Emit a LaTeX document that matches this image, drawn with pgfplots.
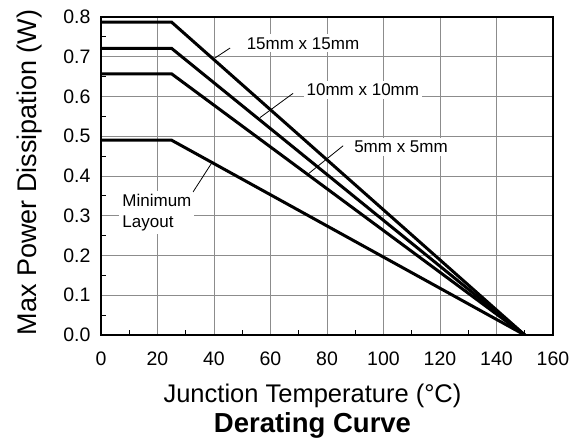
\documentclass[border=0pt]{standalone}
\usepackage{fontspec}
\setmainfont{Liberation Sans}
\usepackage{pgfplots}
\pgfplotsset{compat=1.18}

\begin{document}
\begin{tikzpicture}
\begin{axis}[
  scale only axis, width=452pt, height=318pt,
  xmin=0, xmax=160, ymin=0, ymax=0.8,
  xtick={0,20,40,60,80,100,120,140,160},
  ytick={0,0.1,0.2,0.3,0.4,0.5,0.6,0.7,0.8},
  minor x tick num=1, minor y tick num=1,
  tick pos=left,
  grid=major,
  major grid style={black!45, line width=1pt},
  axis line style={line width=2.5pt},
  major tick length=0pt, minor tick length=5pt,
  every tick/.style={black, line width=1pt},
  /pgf/number format/assume math mode=true,
  tick label style={font=\fontsize{19.5}{22}\selectfont},
  xticklabel style={yshift=-13pt},
  yticklabel style={xshift=-7pt, /pgf/number format/.cd, fixed, fixed zerofill, precision=1},
]
% derating curves: flat to 25 C, then linear to zero at 150 C
\addplot[black, line width=3pt] coordinates {(0,0.787) (25,0.787) (150,0)};
\addplot[black, line width=3pt] coordinates {(0,0.721) (25,0.721) (150,0)};
\addplot[black, line width=3pt] coordinates {(0,0.657) (25,0.657) (150,0)};
\addplot[black, line width=3pt] coordinates {(0,0.49) (25,0.49) (150,0)};

% labels and leaders
\node[fill=white, inner sep=3pt, font=\fontsize{17}{20}\selectfont] at (axis cs:71.5,0.734) {15mm x 15mm};
\draw[line width=0.8pt] (axis cs:40.35,0.697) -- (axis cs:45.7,0.722);
\node[fill=white, inner sep=3pt, font=\fontsize{17}{20}\selectfont] at (axis cs:92.7,0.616) {10mm x 10mm};
\draw[line width=0.8pt] (axis cs:56.3,0.547) -- (axis cs:68,0.608);
\node[fill=white, inner sep=3pt, font=\fontsize{17}{20}\selectfont] at (axis cs:106.2,0.473) {5mm x 5mm};
\draw[line width=0.8pt] (axis cs:73.3,0.405) -- (axis cs:85.7,0.476);
\node[fill=white, inner sep=3pt, align=left, font=\fontsize{17}{21}\selectfont] at (axis cs:19.8,0.309) {Minimum\\Layout};
\draw[line width=0.8pt] (axis cs:32.6,0.36) -- (axis cs:39.3,0.434);
\end{axis}
\node[anchor=base, font=\fontsize{25.5}{28}\selectfont] at (211.5pt,-67pt) {Junction Temperature (°C)};
\node[anchor=base, font=\bfseries\fontsize{27.5}{30}\selectfont] at (211.5pt,-97pt) {Derating Curve};
\node[anchor=base, rotate=90, font=\fontsize{27}{30}\selectfont] at (-64pt,162.5pt) {Max Power Dissipation (W)};
\pgfresetboundingbox
\path (-101pt,-112pt) rectangle (471pt,335pt);
\end{tikzpicture}
\end{document}
